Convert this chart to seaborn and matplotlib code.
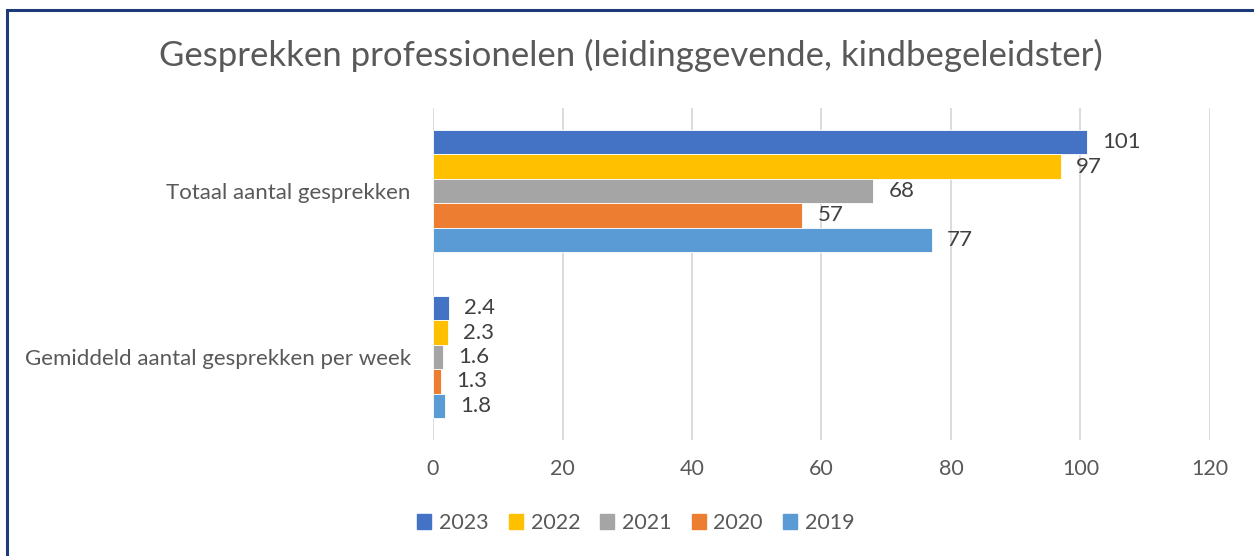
import matplotlib
matplotlib.use("Agg")
import matplotlib.pyplot as plt
import seaborn as sns
import pandas as pd
from matplotlib.patches import Rectangle

# -----------------------------------------------------------
# Data
# -----------------------------------------------------------
categories = ["Totaal aantal gesprekken", "Gemiddeld aantal gesprekken per week"]
years = ["2023", "2022", "2021", "2020", "2019"]
values_2023 = [101, 2.4]
values_2022 = [97, 2.3]
values_2021 = [68, 1.6]
values_2020 = [57, 1.3]
values_2019 = [77, 1.8]
label_texts = {
    "2023": ["101", "2.4"],
    "2022": ["97", "2.3"],
    "2021": ["68", "1.6"],
    "2020": ["57", "1.3"],
    "2019": ["77", "1.8"],
}
colors = ["#4472C4", "#FFC000", "#A5A5A5", "#ED7D31", "#5B9BD5"]

rows = []
for year, vals in zip(years, [values_2023, values_2022, values_2021, values_2020, values_2019]):
    for cat, v in zip(categories, vals):
        rows.append({"categorie": cat, "jaar": year, "waarde": v})
df = pd.DataFrame(rows)

# -----------------------------------------------------------
# Plot
# -----------------------------------------------------------
sns.set_theme(style="white")
plt.rcParams["font.family"] = ["Lato", "DejaVu Sans"]
TEXT = "#595959"

fig = plt.figure(figsize=(12.54, 5.56), dpi=100)
ax = fig.add_axes([433 / 1254, 1 - 440 / 556, (1210 - 433) / 1254, (440 - 108) / 556])

sns.barplot(data=df, y="categorie", x="waarde", hue="jaar", order=categories,
            hue_order=years, palette=colors, saturation=1, orient="h", width=0.735,
            edgecolor="white", linewidth=0.6, ax=ax)

for container, year in zip(ax.containers, years):
    ax.bar_label(container, labels=label_texts[year], padding=11,
                 fontsize=16, color="#404040")

ax.set_xlim(0, 120)
ax.set_xticks(range(0, 121, 20))
ax.grid(axis="x", color="#D9D9D9", linewidth=1.3)
ax.set_axisbelow(True)
for s in ax.spines.values():
    s.set_visible(False)
ax.set_xlabel("")
ax.set_ylabel("")
ax.tick_params(axis="x", colors=TEXT, labelsize=15.5, length=0, pad=14)
ax.tick_params(axis="y", colors=TEXT, labelsize=16, length=0, pad=16)

ax.legend_.remove()
handles = [Rectangle((0, 0), 1, 1, color=c) for c in colors]
fig.legend(handles, years, loc="center", bbox_to_anchor=(636 / 1254, 1 - 523 / 556),
           ncol=5, frameon=False, fontsize=15.5, labelcolor=TEXT,
           handlelength=0.65, handleheight=0.65, handletextpad=0.35, columnspacing=0.95)

fig.text(631 / 1254, 1 - 55 / 556, "Gesprekken professionelen (leidinggevende, kindbegeleidster)",
         ha="center", va="center", fontsize=25, color=TEXT)

# frame border (left and top visible)
fig.patches.append(Rectangle((6.5 / 1254, -0.1), 1.2, 1 - 9.5 / 556 + 0.1,
                             transform=fig.transFigure, fill=False,
                             edgecolor="#1F3A7A", linewidth=2.2))

fig.savefig("out.png", dpi=100, facecolor="white")
